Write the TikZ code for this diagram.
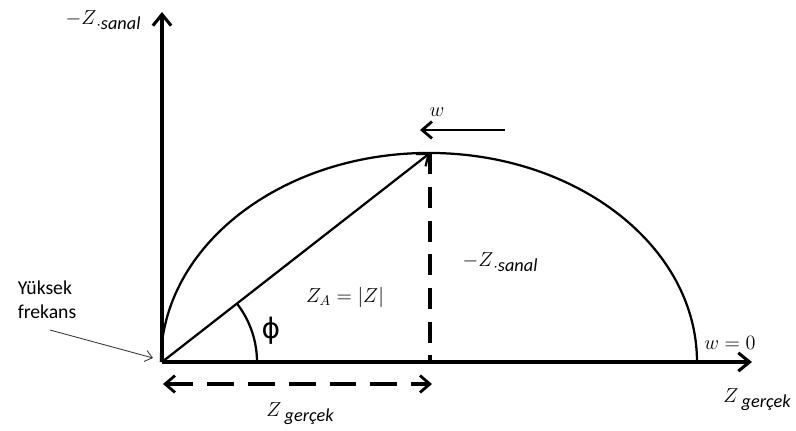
\documentclass[tikz,border=0pt]{standalone}
\usepackage{amsmath}
\usepackage{fontspec}
\setsansfont{Carlito}
\newfontfamily\phifont{DejaVu Sans}
\usetikzlibrary{arrows.meta,positioning,calc}
\newcommand{\subtxt}[1]{\raisebox{-0.6ex}{\sffamily\itshape\fontsize{13}{15}\selectfont #1}}

\begin{document}
\begin{tikzpicture}[
    x=0.025cm, y=0.025cm,
    font=\fontsize{14}{17}\selectfont,
    axis/.style={line width=2.2pt, draw=black,
      -{Straight Barb[length=8pt,width=13pt,line width=2.2pt]}},
    vec/.style={line width=1.6pt, draw=black,
      -{Straight Barb[length=7pt,width=11pt,line width=1.6pt]}},
    warr/.style={line width=2pt, draw=black,
      -{Straight Barb[length=7pt,width=12pt,line width=2pt]}},
    curve/.style={line width=1.6pt, draw=black},
    dashln/.style={line width=2.2pt, draw=black, dash pattern=on 15pt off 9pt},
    dasharr/.style={line width=2.2pt, draw=black, dash pattern=on 19pt off 10pt,
      {Straight Barb[length=7pt,width=12pt,line width=2pt]}-{Straight Barb[length=7pt,width=12pt,line width=2pt]}},
    thin/.style={line width=0.6pt, draw=black!80,
      -{Straight Barb[length=5pt,width=8pt,line width=0.6pt]}},
    lbl/.style={inner sep=1pt}
  ]
    \useasboundingbox (0,0) rectangle (796,430);

    % points
    \coordinate (o) at (162,68);
    \coordinate (ytop) at (162,418);
    \coordinate (xend) at (752,68);
    \coordinate (top) at (430,277);
    \coordinate (foot) at (430,68);
    \coordinate (rend) at (697,68);
    \coordinate (wstart) at (505,300);
    \coordinate (wend) at (420,300);
    \coordinate (bl) at (163,46);
    \coordinate (br) at (432,46);
    \coordinate (hfstart) at (50,100);

    % axes
    \draw[axis] (o) -- (ytop);
    \draw[axis] (o) -- (xend);

    % semi-ellipse
    \draw[curve] (rend) arc[start angle=0, end angle=180, x radius=6.7cm, y radius=5.225cm];

    % vector and projections
    \draw[vec] (o) -- (top);
    \draw[dashln] (top) -- (foot);
    \draw[dasharr] (bl) -- (br);
    \draw[warr] (wstart) -- (wend);

    % angle
    \draw[curve] ($(o)+(95,0)$) arc[start angle=0, end angle=37.9, radius=2.375cm];

    % labels
    \node[lbl] (ylab) at (103,410) {$-Z$\subtxt{$\cdot$sanal}};
    \node[lbl] (wlab) at (437,318) {$w$};
    \node[lbl] (phi) at (271,99) {\phifont\fontsize{20}{22}\selectfont ϕ};
    \node[lbl] (za) at (345,133) {$Z_A=|Z|$};
    \node[lbl] (zsan) at (500,168) {$-Z$\subtxt{$\cdot$sanal}};
    \node[lbl] (w0) at (730,87) {$w=0$};
    \node[lbl] (zre) at (300,16) {$Z$\,\subtxt{gerçek}};
    \node[lbl] (zrex) at (757,30) {$Z$\,\subtxt{gerçek}};
    \node[lbl, align=left, font=\sffamily\fontsize{14}{17}\selectfont] (hf) at (47,130) {Yüksek\\frekans};

    \draw[thin] (hfstart) -- (153,72);
  \end{tikzpicture}
\end{document}
